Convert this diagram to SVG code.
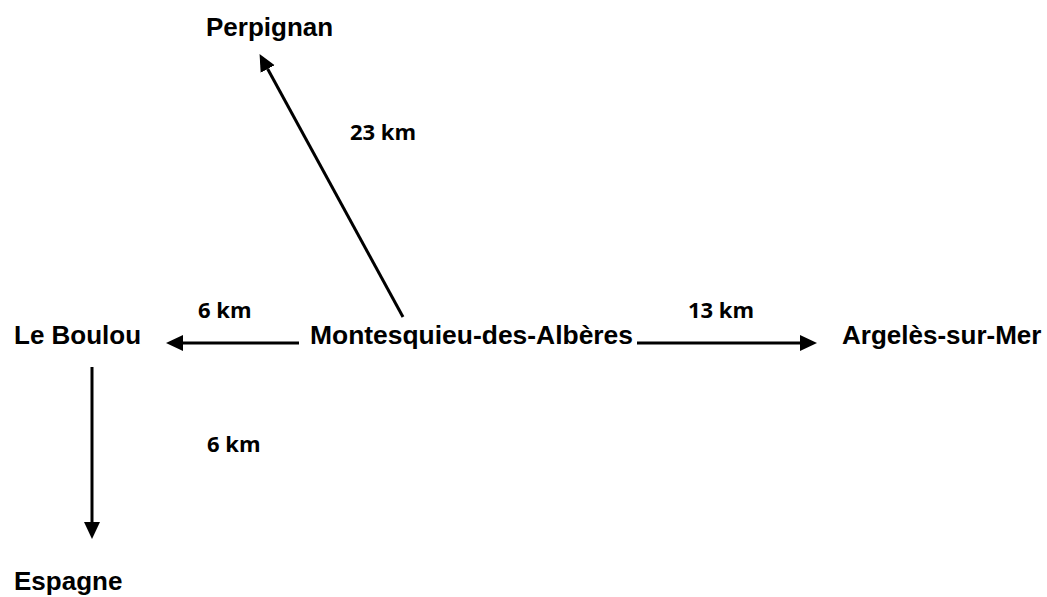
<svg xmlns="http://www.w3.org/2000/svg" width="1047" height="597" viewBox="0 0 1047 597">
  <style>
    .place { font-family: "Liberation Sans", Arial, sans-serif; font-weight: bold; font-size: 26px; fill: #000; }
    .dist { font-family: "Open Sans", "Liberation Sans", sans-serif; font-weight: 700; font-size: 22px; fill: #000; }
    .conn { stroke: #000; stroke-width: 3; fill: none; marker-end: url(#arrow); }
  </style>
  <defs>
    <marker id="arrow" markerUnits="userSpaceOnUse" markerWidth="17" markerHeight="17" refX="0" refY="8" orient="auto" viewBox="0 0 17 16">
      <path d="M0,0 L17,8 L0,16 Z" fill="#000"/>
    </marker>
  </defs>
  <rect width="1047" height="597" fill="#fff"/>
  <g id="connectors">
    <line class="conn" x1="403" y1="317" x2="267.7" y2="69"/>
    <line class="conn" x1="299" y1="343" x2="183" y2="343"/>
    <line class="conn" x1="637" y1="343" x2="800" y2="343"/>
    <line class="conn" x1="92" y1="367" x2="92" y2="522"/>
  </g>
  <g id="perpignan"><text class="place" x="206" y="36">Perpignan</text></g>
  <g id="montesquieu"><text class="place" x="310" y="344" textLength="323" lengthAdjust="spacingAndGlyphs">Montesquieu-des-Albères</text></g>
  <g id="le-boulou"><text class="place" x="14" y="344">Le Boulou</text></g>
  <g id="argeles"><text class="place" x="842" y="344">Argelès-sur-Mer</text></g>
  <g id="espagne"><text class="place" x="14" y="590">Espagne</text></g>
  <g id="labels">
    <text class="dist" x="350" y="140">23 km</text>
    <text class="dist" x="198" y="318">6 km</text>
    <text class="dist" x="688" y="318">13 km</text>
    <text class="dist" x="207" y="452">6 km</text>
  </g>
</svg>
